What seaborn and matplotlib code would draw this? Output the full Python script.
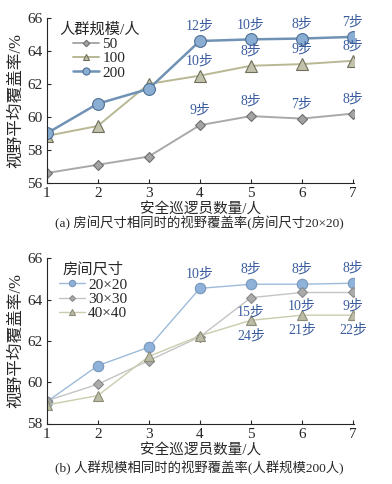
import matplotlib
matplotlib.use("Agg")
import matplotlib.pyplot as plt
import seaborn as sns
import pandas as pd

sns.set_style("ticks")
plt.rcParams['font.family'] = ['Liberation Serif', 'Noto Sans CJK SC']
plt.rcParams['axes.unicode_minus'] = False

guards = [1, 2, 3, 4, 5, 6, 7]

# (a) same room size 20x20, crowd sizes
crowd_labels = ['50', '100', '200']
cov_50 = [56.6, 57.1, 57.6, 59.5, 60.05, 59.9, 60.2]
cov_100 = [58.85, 59.45, 62.0, 62.5, 63.1, 63.2, 63.4]
cov_200 = [59.0, 60.8, 61.7, 64.6, 64.7, 64.75, 64.85]
steps_50 = ['9步', '8步', '7步', '8步']
steps_100 = ['10步', '8步', '9步', '8步']
steps_200 = ['12步', '10步', '8步', '7步']

# (b) same crowd size 200, room sizes
room_labels = ['20×20', '30×30', '40×40']
cov_20 = [59.05, 60.8, 61.7, 64.55, 64.75, 64.75, 64.8]
cov_30 = [59.1, 59.9, 61.05, 62.2, 64.1, 64.35, 64.35]
cov_40 = [58.9, 59.35, 61.25, 62.25, 63.0, 63.25, 63.25]
steps_20 = ['10步', '8步', '8步', '8步']
steps_30 = ['15步', '10步', '9步']
steps_40 = ['24步', '21步', '22步']

ann_color = '#3a5c9e'

fig = plt.figure(figsize=(3.92, 4.84), dpi=100)
ax1 = fig.add_axes([0.119, 0.622, 0.784, 0.341])
ax2 = fig.add_axes([0.119, 0.125, 0.784, 0.341])

def draw(ax, y, label, line_c, face_c, edge_c, marker, ms, lw=1.4):
    df = pd.DataFrame({'x': guards, 'y': y})
    sns.lineplot(data=df, x='x', y='y', ax=ax, color=line_c, lw=lw,
                 marker=marker, markersize=ms, markerfacecolor=face_c,
                 markeredgecolor=edge_c, markeredgewidth=0.8, label=label)

# panel (a)
draw(ax1, cov_50, crowd_labels[0], '#a9a9a9', '#a3a3a3', '#6e6e6e', 'D', 5.5)
draw(ax1, cov_100, crowd_labels[1], '#b8b894', '#c2c2aa', '#6e6e5a', '^', 8)
draw(ax1, cov_200, crowd_labels[2], '#6f92b5', '#8aaed3', '#4f6f93', 'o', 8.5, lw=1.8)

for xs, ys, labs in [(guards[3:], cov_50[3:], steps_50),
                     (guards[3:], cov_100[3:], steps_100),
                     (guards[3:], cov_200[3:], steps_200)]:
    for x, y, t in zip(xs, ys, labs):
        ax1.annotate(t, (x, y), xytext=(0, 6), textcoords='offset points',
                     ha='center', va='bottom', color=ann_color, fontsize=10)

ax1.set_ylim(56, 66)
ax1.set_yticks([56, 58, 60, 62, 64, 66])

# panel (b)
draw(ax2, cov_20, room_labels[0], '#9dbbd9', '#8fb2da', '#7896b8', 'o', 7.5, lw=1.0)
draw(ax2, cov_30, room_labels[1], '#c4c4c4', '#ababab', '#8a8a8a', 'D', 5, lw=1.0)
draw(ax2, cov_40, room_labels[2], '#cbcbae', '#bcbca6', '#8c8c78', '^', 7.5, lw=1.0)

for x, y, t in zip(guards[3:], cov_20[3:], steps_20):
    ax2.annotate(t, (x, y), xytext=(0, 6), textcoords='offset points',
                 ha='center', va='bottom', color=ann_color, fontsize=10)
for x, y, t in zip(guards[4:], cov_30[4:], steps_30):
    ax2.annotate(t, (x, y), xytext=(0, -5), textcoords='offset points',
                 ha='center', va='top', color=ann_color, fontsize=10)
for x, y, t in zip(guards[4:], cov_40[4:], steps_40):
    ax2.annotate(t, (x, y), xytext=(0, -6), textcoords='offset points',
                 ha='center', va='top', color=ann_color, fontsize=10)

ax2.set_ylim(58, 66)
ax2.set_yticks([58, 60, 62, 64, 66])

for ax in (ax1, ax2):
    ax.set_xlim(1, 7.02)
    ax.set_xticks(guards)
    sns.despine(ax=ax)
    ax.tick_params(direction='in', length=3, width=0.8, labelsize=11, pad=3)
    ax.set_xlabel('安全巡逻员数量/人', fontsize=10.5, labelpad=2)
    ax.set_ylabel('视野平均覆盖率/%', fontsize=12, labelpad=2)
    for s in ('left', 'bottom'):
        ax.spines[s].set_linewidth(0.8)

leg_kw = dict(loc='upper left', frameon=False, fontsize=11, title_fontsize=11,
              handlelength=1.7, handletextpad=0.2, labelspacing=0.05,
              borderaxespad=0.2, markerscale=0.6, bbox_to_anchor=(0.01, 1.03))
leg1 = ax1.legend(title='人群规模/人', **leg_kw)
leg2 = ax2.legend(title='房间尺寸', **leg_kw)

fig.text(0.508, 1 - 223 / 484, '(a) 房间尺寸相同时的视野覆盖率(房间尺寸20×20)',
         ha='center', va='center', fontsize=9.6)
fig.text(0.508, 1 - 468 / 484, '(b) 人群规模相同时的视野覆盖率(人群规模200人)',
         ha='center', va='center', fontsize=9.6)

fig.savefig('out.png', dpi=100, facecolor='white')
